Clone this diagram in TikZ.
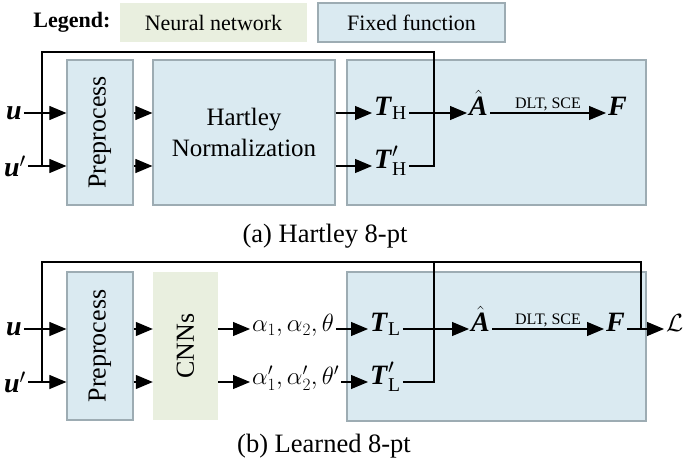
\documentclass[tikz,border=0pt]{standalone}
\usepackage{amsmath}
\usepackage{amssymb}
\usepackage{fontspec}
\setmainfont{Liberation Serif}
\usetikzlibrary{arrows.meta}
\definecolor{fixedblue}{HTML}{DAEAF1}
\definecolor{netgreen}{HTML}{E9EFDF}
\definecolor{edgegray}{HTML}{9DACB3}
\newcommand{\bv}[1]{\textbf{\textit{#1}}}

\begin{document}
\begin{tikzpicture}[x=1pt,y=-1pt,
    fixed/.style={fill=fixedblue,draw=edgegray,line width=1.2pt,inner sep=0pt},
    net/.style={fill=netgreen,inner sep=0pt},
    lbl/.style={font=\fontsize{25}{31}\selectfont,inner sep=2pt},
    sym/.style={font=\fontsize{28}{32}\selectfont,inner sep=2pt,anchor=mid west},
    dltlbl/.style={font=\fontsize{16}{18}\selectfont,above,inner sep=1pt,pos=0.5},
    arr/.style={line width=1.1pt,-{Triangle[length=17pt,width=14pt]}},
    wire/.style={line width=1.1pt}]
    \useasboundingbox (0,0) rectangle (689,471);

    \node[font=\fontsize{22}{26}\selectfont\bfseries] (legend) at (72,22) {Legend:};
    \node[net,minimum width=187pt,minimum height=39pt,font=\fontsize{22}{26}\selectfont] (leg-net) at (213.5,22.5) {Neural network};
    \node[fixed,minimum width=187pt,minimum height=39pt,font=\fontsize{22}{26}\selectfont] (leg-fix) at (411.5,22.5) {Fixed function};

    \node[fixed,minimum width=66pt,minimum height=145pt] (pre-a) at (100,132.5) {};
    \node[lbl,font=\fontsize{26}{30}\selectfont,rotate=90] (pre-a-txt) at (pre-a.center) {Preprocess};
    \node[fixed,lbl,inner sep=0pt,minimum width=182pt,minimum height=145pt,align=center] (hart) at (244,132.5) {Hartley\\Normalization};
    \node[fixed,minimum width=299pt,minimum height=145pt] (big-a) at (496.5,132.5) {};

    \node[sym,anchor=center] (u-a) at (14,113) {$\bv{u}$};
    \node[sym,anchor=center] (up-a) at (15,166) {$\bv{u}'$};
    \node[sym] (th) at (372,113) {$\bv{T}_{\text{H}}$};
    \node[sym] (tph) at (372,166) {$\bv{T}'_{\text{H}}$};
    \node[sym] (ah-a) at (467,113) {$\hat{\bv{A}}$};
    \node[sym] (f-a) at (606,113) {$\bv{F}$};
    \coordinate (fb-a1) at (42,52);
    \coordinate (fb-a2) at (434,52);

    \draw[arr] (u-a) -- (pre-a.west |- u-a);
    \draw[arr] (up-a) -- (pre-a.west |- up-a);
    \draw[arr] (pre-a.east |- u-a) -- (hart.west |- u-a);
    \draw[arr] (pre-a.east |- up-a) -- (hart.west |- up-a);
    \draw[arr] (hart.east |- th.mid west) -- (th.mid west);
    \draw[arr] (hart.east |- tph.mid west) -- (tph.mid west);
    \draw[arr] (th.mid east) -- (ah-a.mid west);
    \draw[arr] (ah-a.mid east) -- node[dltlbl] (dlt-a) {DLT, SCE} (f-a.mid west);
    \draw[wire] (tph.mid east) -| (fb-a2) -- (fb-a1) -- (fb-a1 |- up-a);

    \node[lbl,font=\fontsize{26.5}{30}\selectfont] (cap-a) at (325,236) {(a) Hartley 8-pt};

    \node[fixed,minimum width=66pt,minimum height=148pt] (pre-b) at (100,346) {};
    \node[lbl,font=\fontsize{26}{30}\selectfont,rotate=90] (pre-b-txt) at (pre-b.center) {Preprocess};
    \node[net,minimum width=65pt,minimum height=148pt] (cnn) at (185.5,346) {};
    \node[lbl,font=\fontsize{26}{30}\selectfont,rotate=90] (cnn-txt) at (cnn.center) {CNNs};
    \node[fixed,minimum width=299pt,minimum height=149pt] (big-b) at (496.5,346.5) {};

    \node[sym,anchor=center] (u-b) at (14,329) {$\bv{u}$};
    \node[sym,anchor=center] (up-b) at (15,382) {$\bv{u}'$};
    \node[sym,font=\fontsize{25}{30}\selectfont] (al) at (250,329) {$\alpha_1{,}\,\alpha_2{,}\,\theta$};
    \node[sym,font=\fontsize{25}{30}\selectfont] (alp) at (250,382) {$\alpha'_1{,}\,\alpha'_2{,}\,\theta'$};
    \node[sym] (tl) at (368,329) {$\bv{T}_{\text{L}}$};
    \node[sym] (tpl) at (368,382) {$\bv{T}'_{\text{L}}$};
    \node[sym] (ah-b) at (469,329) {$\hat{\bv{A}}$};
    \node[sym] (f-b) at (604,329) {$\bv{F}$};
    \node[sym] (loss) at (664,329) {$\mathcal{L}$};
    \coordinate (fb-b1) at (42,262);
    \coordinate (fb-b2) at (434,262);
    \coordinate (fb-b3) at (641,262);

    \draw[arr] (u-b) -- (pre-b.west |- u-b);
    \draw[arr] (up-b) -- (pre-b.west |- up-b);
    \draw[arr] (pre-b.east |- u-b) -- (cnn.west |- u-b);
    \draw[arr] (pre-b.east |- up-b) -- (cnn.west |- up-b);
    \draw[arr] (cnn.east |- al.mid west) -- (al.mid west);
    \draw[arr] (cnn.east |- alp.mid west) -- (alp.mid west);
    \draw[arr] (al.mid east) -- (tl.mid west);
    \draw[arr] (alp.mid east) -- (tpl.mid west);
    \draw[arr] (tl.mid east) -- (ah-b.mid west);
    \draw[arr] (ah-b.mid east) -- node[dltlbl] (dlt-b) {DLT, SCE} (f-b.mid west);
    \draw[arr] (f-b.mid east) -- (loss.mid west);
    \draw[wire] (tpl.mid east) -| (fb-b2);
    \draw[wire] (fb-b1 |- up-b) -- (fb-b1) -- (fb-b3) -- (fb-b3 |- loss.mid west);

    \node[lbl,font=\fontsize{26.5}{30}\selectfont] (cap-b) at (324,446) {(b) Learned 8-pt};
\end{tikzpicture}
\end{document}
